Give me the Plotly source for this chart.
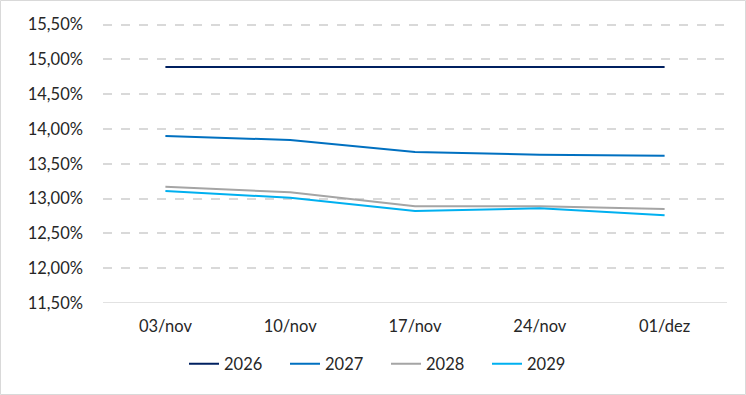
import plotly.graph_objects as go

categories = ["03/nov", "10/nov", "17/nov", "24/nov", "01/dez"]
series_names = ["2026", "2027", "2028", "2029"]
s2026 = [14.89, 14.89, 14.89, 14.89, 14.89]
s2027 = [13.90, 13.84, 13.67, 13.63, 13.615]
s2028 = [13.17, 13.09, 12.89, 12.89, 12.85]
s2029 = [13.11, 13.01, 12.82, 12.86, 12.76]
colors = ["#002060", "#0070C0", "#A5A5A5", "#00B0F0"]
tick_vals = [11.5, 12.0, 12.5, 13.0, 13.5, 14.0, 14.5, 15.0, 15.5]
tick_text = ["11,50%", "12,00%", "12,50%", "13,00%", "13,50%", "14,00%", "14,50%", "15,00%", "15,50%"]

FONT = "Lato"
FS = 16.5
W, H = 746, 395
ml, mr, mt, mb = 103, 19, 22, 92
pw, ph = W - ml - mr, H - mt - mb

fig = go.Figure()
for name, vals, c in zip(series_names, [s2026, s2027, s2028, s2029], colors):
    fig.add_trace(go.Scatter(x=categories, y=vals, mode="lines", name=name,
                             line=dict(color=c, width=2)))

fig.update_layout(
    width=W, height=H,
    margin=dict(l=ml, r=mr, t=mt, b=mb, autoexpand=False),
    paper_bgcolor="white", plot_bgcolor="white",
    font=dict(family=FONT, size=FS, color="#262626"),
    showlegend=True,
    legend=dict(orientation="h", x=(386 - ml) / pw, xanchor="center",
                y=(H - mb - 364) / ph, yanchor="middle",
                entrywidth=56, entrywidthmode="pixels",
                font=dict(family=FONT, size=FS, color="#262626"),
                bgcolor="rgba(0,0,0,0)"),
    xaxis=dict(type="category", showgrid=False, showline=False, ticks="",
               zeroline=False, tickfont=dict(family=FONT, size=FS, color="#262626"),
               range=[-0.5, 4.5], ticklabelstandoff=11),
    yaxis=dict(range=[11.5, 15.536], tickvals=tick_vals, ticktext=tick_text,
               showgrid=True, gridcolor="#D9D9D9", griddash="dash", gridwidth=1.5,
               zeroline=False, showline=False, ticks="", ticklabelstandoff=19,
               tickfont=dict(family=FONT, size=FS, color="#262626")),
)
# bottom axis baseline
fig.add_shape(type="line", xref="paper", yref="y", x0=0, x1=1, y0=11.5, y1=11.5,
              line=dict(color="#D9D9D9", width=1.5), layer="below")
# outer chart border
fig.add_shape(type="rect", xref="paper", yref="paper",
              x0=(0.5 - ml) / pw, x1=(W - 0.5 - ml) / pw,
              y0=-(mb - 0.5) / ph, y1=(H - mb - 0.5) / ph,
              line=dict(color="#D9D9D9", width=1), fillcolor="rgba(0,0,0,0)")

fig.write_html("out.html", config={"displayModeBar": False},
               post_script="document.body.style.margin='0';document.body.style.overflow='hidden';")
